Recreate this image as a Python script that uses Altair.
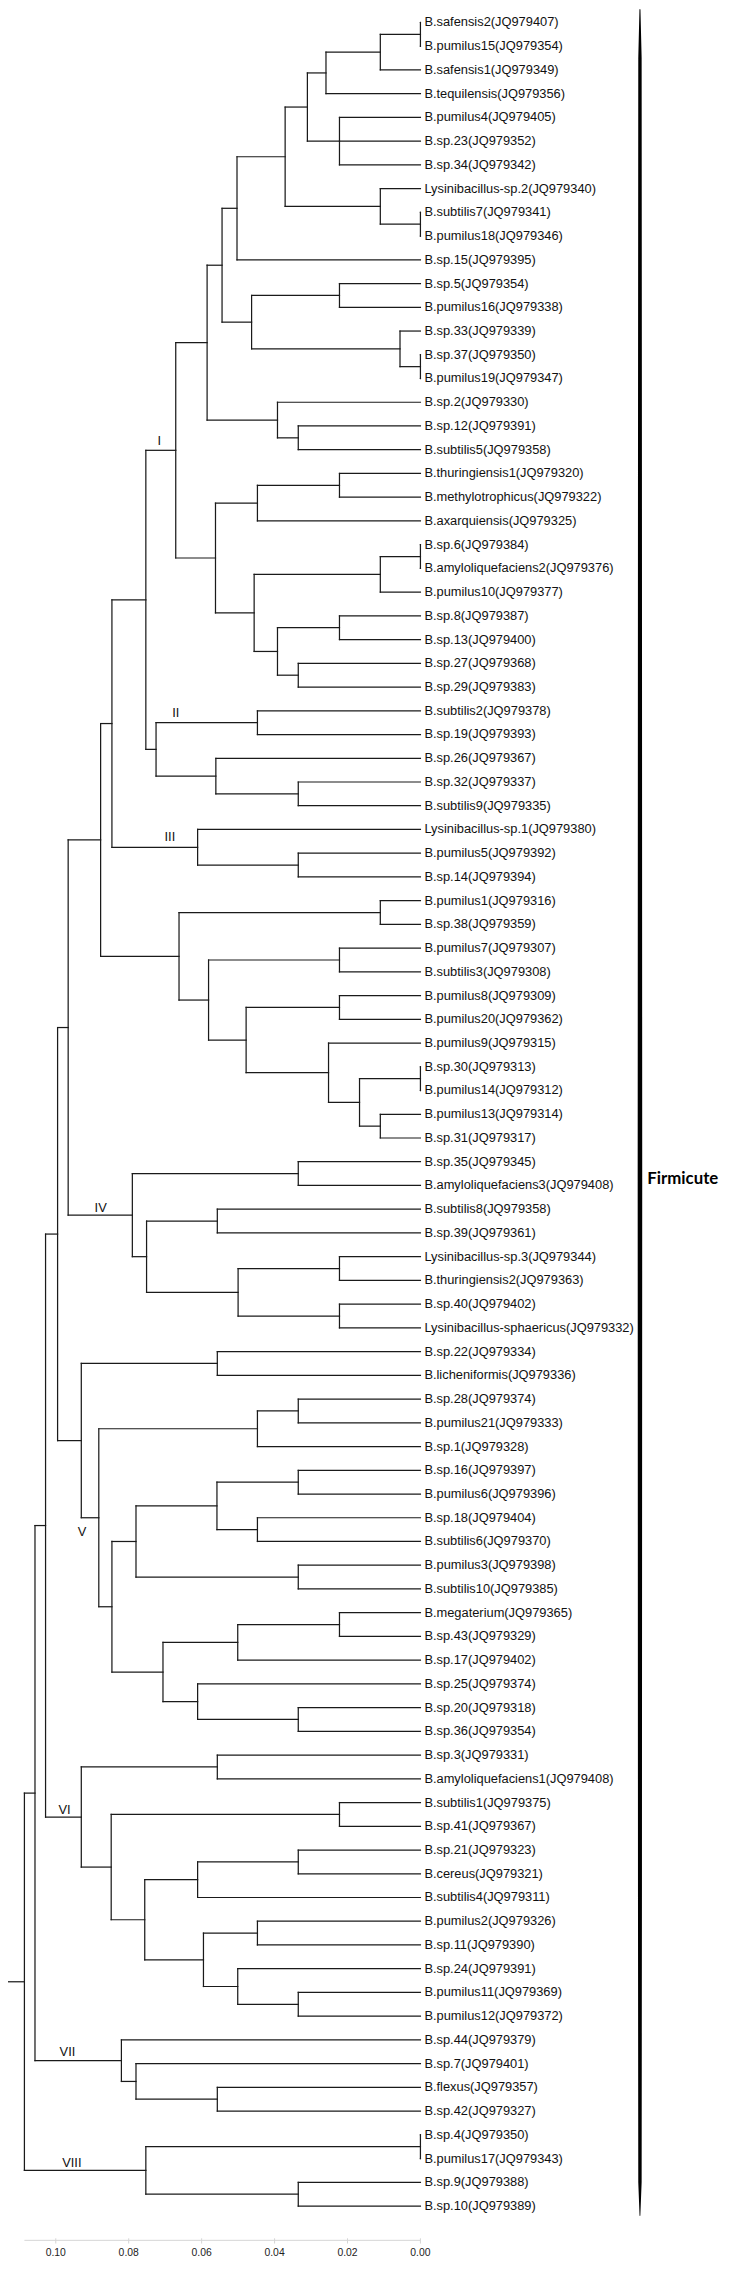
import altair as alt
import pandas as pd

# ---------------- data ----------------
LEAVES = [
    "B.safensis2(JQ979407)", "B.pumilus15(JQ979354)", "B.safensis1(JQ979349)",
    "B.tequilensis(JQ979356)", "B.pumilus4(JQ979405)", "B.sp.23(JQ979352)",
    "B.sp.34(JQ979342)", "Lysinibacillus-sp.2(JQ979340)", "B.subtilis7(JQ979341)",
    "B.pumilus18(JQ979346)", "B.sp.15(JQ979395)", "B.sp.5(JQ979354)",
    "B.pumilus16(JQ979338)", "B.sp.33(JQ979339)", "B.sp.37(JQ979350)",
    "B.pumilus19(JQ979347)", "B.sp.2(JQ979330)", "B.sp.12(JQ979391)",
    "B.subtilis5(JQ979358)", "B.thuringiensis1(JQ979320)", "B.methylotrophicus(JQ979322)",
    "B.axarquiensis(JQ979325)", "B.sp.6(JQ979384)", "B.amyloliquefaciens2(JQ979376)",
    "B.pumilus10(JQ979377)", "B.sp.8(JQ979387)", "B.sp.13(JQ979400)",
    "B.sp.27(JQ979368)", "B.sp.29(JQ979383)", "B.subtilis2(JQ979378)",
    "B.sp.19(JQ979393)", "B.sp.26(JQ979367)", "B.sp.32(JQ979337)",
    "B.subtilis9(JQ979335)", "Lysinibacillus-sp.1(JQ979380)", "B.pumilus5(JQ979392)",
    "B.sp.14(JQ979394)", "B.pumilus1(JQ979316)", "B.sp.38(JQ979359)",
    "B.pumilus7(JQ979307)", "B.subtilis3(JQ979308)", "B.pumilus8(JQ979309)",
    "B.pumilus20(JQ979362)", "B.pumilus9(JQ979315)", "B.sp.30(JQ979313)",
    "B.pumilus14(JQ979312)", "B.pumilus13(JQ979314)", "B.sp.31(JQ979317)",
    "B.sp.35(JQ979345)", "B.amyloliquefaciens3(JQ979408)", "B.subtilis8(JQ979358)",
    "B.sp.39(JQ979361)", "Lysinibacillus-sp.3(JQ979344)", "B.thuringiensis2(JQ979363)",
    "B.sp.40(JQ979402)", "Lysinibacillus-sphaericus(JQ979332)", "B.sp.22(JQ979334)",
    "B.licheniformis(JQ979336)", "B.sp.28(JQ979374)", "B.pumilus21(JQ979333)",
    "B.sp.1(JQ979328)", "B.sp.16(JQ979397)", "B.pumilus6(JQ979396)",
    "B.sp.18(JQ979404)", "B.subtilis6(JQ979370)", "B.pumilus3(JQ979398)",
    "B.subtilis10(JQ979385)", "B.megaterium(JQ979365)", "B.sp.43(JQ979329)",
    "B.sp.17(JQ979402)", "B.sp.25(JQ979374)", "B.sp.20(JQ979318)",
    "B.sp.36(JQ979354)", "B.sp.3(JQ979331)", "B.amyloliquefaciens1(JQ979408)",
    "B.subtilis1(JQ979375)", "B.sp.41(JQ979367)", "B.sp.21(JQ979323)",
    "B.cereus(JQ979321)", "B.subtilis4(JQ979311)", "B.pumilus2(JQ979326)",
    "B.sp.11(JQ979390)", "B.sp.24(JQ979391)", "B.pumilus11(JQ979369)",
    "B.pumilus12(JQ979372)", "B.sp.44(JQ979379)", "B.sp.7(JQ979401)",
    "B.flexus(JQ979357)", "B.sp.42(JQ979327)", "B.sp.4(JQ979350)",
    "B.pumilus17(JQ979343)", "B.sp.9(JQ979388)", "B.sp.10(JQ979389)",
]

# internal nodes (children listed before parents); ints = leaf numbers (1-based)
NODE_NAMES = [
    "A1", "A2", "A3", "A4", "A5", "A6", "A7", "A8", "A9",
    "B1", "B2", "B3", "B4", "B5", "C1", "C2", "C3",
    "D1", "D2", "D3", "D4", "D5", "D6", "D7", "D8", "D9", "I",
    "E1", "E2", "E3", "II", "F", "G1", "III", "H",
    "J1", "J2", "J3", "J4", "J5", "J6", "J7", "J8", "J9", "J10", "K",
    "L1", "L2", "L3", "L4", "L5", "L6", "IV", "M",
    "N1", "N2", "N3", "N4", "N5", "N6", "N7", "N8", "N9", "N10", "N11", "N12",
    "N13", "N14", "N15", "V", "O",
    "P1", "P2", "P3", "P4", "P5", "P6", "P7", "P8", "P9", "P10", "VI", "Q",
    "R1", "R2", "VII", "S", "T1", "T2", "VIII", "ROOT",
]
NODE_HEIGHTS = [
    0.0, 0.0110, 0.0259, 0.0222, 0.0310, 0.0, 0.0110, 0.0371, 0.0503,
    0.0222, 0.0, 0.0056, 0.0463, 0.0544, 0.0335, 0.0392, 0.0585,
    0.0222, 0.0447, 0.0, 0.0110, 0.0222, 0.0335, 0.0392, 0.0456, 0.0562, 0.0671,
    0.0447, 0.0335, 0.0561, 0.0725, 0.0753, 0.0335, 0.0611, 0.0846,
    0.0110, 0.0222, 0.0222, 0.0, 0.0110, 0.0167, 0.0252, 0.0478, 0.0581, 0.0662, 0.0877,
    0.0335, 0.0557, 0.0222, 0.0222, 0.0500, 0.0751, 0.0790, 0.0966,
    0.0557, 0.0335, 0.0447, 0.0335, 0.0447, 0.0558, 0.0335, 0.0780, 0.0222, 0.0501,
    0.0335, 0.0611, 0.0706, 0.0846, 0.0882, 0.0930, 0.0995,
    0.0557, 0.0222, 0.0335, 0.0611, 0.0447, 0.0335, 0.0501, 0.0595, 0.0756, 0.0848,
    0.0930, 0.1028,
    0.0557, 0.0780, 0.0820, 0.1057, 0.0, 0.0335, 0.0753, 0.1086,
]
NODE_CHILDREN = [
    [1, 2], ["A1", 3], ["A2", 4], [5, 6, 7], ["A3", "A4"], [9, 10], [8, "A6"],
    ["A5", "A7"], ["A8", 11],
    [12, 13], [15, 16], [14, "B2"], ["B1", "B3"], ["A9", "B4"], [18, 19],
    [17, "C1"], ["B5", "C2"],
    [20, 21], ["D1", 22], [23, 24], ["D3", 25], [26, 27], [28, 29], ["D5", "D6"],
    ["D4", "D7"], ["D2", "D8"], ["C3", "D9"],
    [30, 31], [33, 34], [32, "E2"], ["E1", "E3"], ["I", "II"], [36, 37],
    [35, "G1"], ["F", "III"],
    [38, 39], [40, 41], [42, 43], [45, 46], [47, 48], ["J4", "J5"], [44, "J6"],
    ["J3", "J7"], ["J2", "J8"], ["J1", "J9"], ["H", "J10"],
    [49, 50], [51, 52], [53, 54], [55, 56], ["L3", "L4"], ["L2", "L5"],
    ["L1", "L6"], ["K", "IV"],
    [57, 58], [59, 60], ["N2", 61], [62, 63], [64, 65], ["N4", "N5"], [66, 67],
    ["N6", "N7"], [68, 69], ["N9", 70], [72, 73], [71, "N11"], ["N10", "N12"],
    ["N8", "N13"], ["N3", "N14"], ["N1", "N15"], ["M", "V"],
    [74, 75], [76, 77], [78, 79], ["P3", 80], [81, 82], [84, 85], [83, "P6"],
    ["P5", "P7"], ["P4", "P8"], ["P2", "P9"], ["P1", "P10"], ["O", "VI"],
    [88, 89], [87, "R1"], [86, "R2"], ["Q", "VII"], [90, 91], [92, 93],
    ["T1", "T2"], ["S", "VIII"],
]
ROOT_STEM_END = 0.1131

CLADE_NAMES = ["I", "II", "III", "IV", "V", "VI", "VII", "VIII"]
CLADE_DIST = [0.0716, 0.0671, 0.0687, 0.0877, 0.0928, 0.0976, 0.0968, 0.0956]
CLADE_ROW = [18.63, 30.08, 35.33, 50.96, 64.6, 76.3, 86.5, 91.17]

AXIS_TICKS = [0.10, 0.08, 0.06, 0.04, 0.02, 0.00]
AXIS_LABELS = ["0.10", "0.08", "0.06", "0.04", "0.02", "0.00"]
AXIS_START = 0.1086
AXIS_ROW = 94.446
TICK_ROW_TOP = 94.36
TICK_ROW_BOT = 94.58
TICK_LABEL_ROW = 94.96

GROUP_LABEL = "Firmicute"
GROUP_DIST = -0.0622
GROUP_ROW = 49.75
BRACE_DIST = -0.0602
BRACE_ROW = [0.45, 2.5, 20.0, 49.75, 80.0, 92.0, 93.4]
BRACE_WIDTH = [1.0, 3.4, 4.0, 4.6, 4.0, 3.4, 0.8]

# ---------------- layout ----------------
W, H = 722, 2261
X_DOMAIN = [0.1131, -0.0827]
Y_DOMAIN = [95.125, 0.9167]

heights = dict(zip(NODE_NAMES, NODE_HEIGHTS))
children = dict(zip(NODE_NAMES, NODE_CHILDREN))
node_pos = {}


def pos(c):
    if isinstance(c, int):
        return (0.0, float(c))
    return node_pos[c]


for name in NODE_NAMES:
    cys = [pos(c)[1] for c in children[name]]
    node_pos[name] = (heights[name], (min(cys) + max(cys)) / 2.0)

rows = []
for name in NODE_NAMES:
    h, _ = node_pos[name]
    cys = [pos(c)[1] for c in children[name]]
    rows.append(dict(x=h, x2=h, y=min(cys), y2=max(cys)))
    for c in children[name]:
        ch, cy = pos(c)
        rows.append(dict(x=h, x2=ch, y=cy, y2=cy))
rh, ry = node_pos["ROOT"]
rows.append(dict(x=ROOT_STEM_END, x2=rh, y=ry, y2=ry))
seg_df = pd.DataFrame(rows)

leaf_df = pd.DataFrame({"name": LEAVES, "x": 0.0, "y": list(range(1, len(LEAVES) + 1))})
clade_df = pd.DataFrame({"name": CLADE_NAMES, "x": CLADE_DIST, "y": CLADE_ROW})
tick_df = pd.DataFrame({"x": AXIS_TICKS, "label": AXIS_LABELS,
                        "y": TICK_ROW_TOP, "y2": TICK_ROW_BOT, "ly": TICK_LABEL_ROW})
axis_df = pd.DataFrame({"x": [AXIS_START], "x2": [0.0], "y": [AXIS_ROW]})
brace_df = pd.DataFrame({"x": BRACE_DIST, "y": BRACE_ROW, "w": BRACE_WIDTH})
group_df = pd.DataFrame({"name": [GROUP_LABEL], "x": [GROUP_DIST], "y": [GROUP_ROW]})

xs = alt.Scale(domain=X_DOMAIN, nice=False, zero=False)
ys = alt.Scale(domain=Y_DOMAIN, nice=False, zero=False)


def X(f="x"):
    return alt.X(f"{f}:Q", scale=xs, axis=None)


def Y(f="y"):
    return alt.Y(f"{f}:Q", scale=ys, axis=None)


tree = alt.Chart(seg_df).mark_rule(color="#1a1a1a", strokeWidth=1.25, strokeCap="square").encode(
    x=X(), x2="x2:Q", y=Y(), y2="y2:Q"
)
leaves = alt.Chart(leaf_df).mark_text(
    align="left", baseline="middle", dx=4, font="Liberation Sans", fontSize=13, color="#111111"
).encode(x=X(), y=Y(), text="name:N")
clades = alt.Chart(clade_df).mark_text(
    align="center", baseline="middle", font="Liberation Sans", fontSize=13, color="#111111"
).encode(x=X(), y=Y(), text="name:N")
axis_line = alt.Chart(axis_df).mark_rule(color="#d4d4d4", strokeWidth=1).encode(
    x=X(), x2="x2:Q", y=Y()
)
ticks = alt.Chart(tick_df).mark_rule(color="#d4d4d4", strokeWidth=1).encode(
    x=X(), y=Y(), y2="y2:Q"
)
tick_labels = alt.Chart(tick_df).mark_text(
    align="center", baseline="middle", font="Liberation Sans", fontSize=10.5, color="#222222"
).encode(x=X(), y=Y("ly"), text="label:N")
brace = alt.Chart(brace_df).mark_trail(color="#000000").encode(
    x=X(), y=Y(), size=alt.Size("w:Q", scale=None, legend=None), order=alt.Order("y:Q")
)
group = alt.Chart(group_df).mark_text(
    align="left", baseline="middle", font="Lato", fontWeight="bold", fontSize=17, color="#000000"
).encode(x=X(), y=Y(), text="name:N")

chart = alt.layer(
    tree, leaves, clades, axis_line, ticks, tick_labels, brace, group
).properties(
    width=W, height=H, autosize=alt.AutoSizeParams(type="none"), padding=0
).configure_view(stroke=None)

chart.save("out.html", embed_options={"renderer": "svg", "actions": False})
